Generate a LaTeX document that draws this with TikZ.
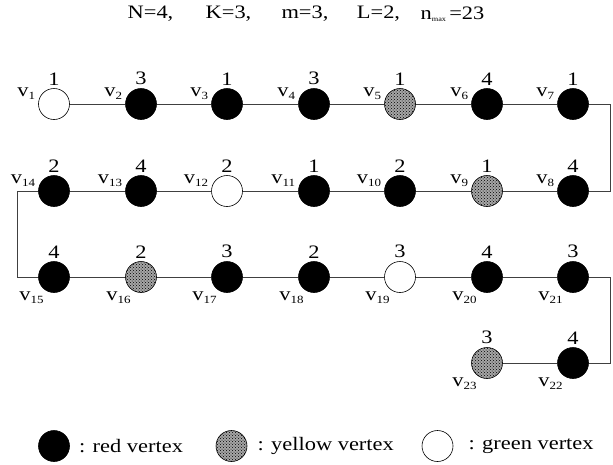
\documentclass[tikz,border=0pt]{standalone}
\usepackage{fontspec}
\setmainfont[FakeStretch=1.18]{Liberation Serif}
\usetikzlibrary{patterns, positioning}
\newcommand{\vx}[1]{v\raisebox{-3pt}{\fontsize{11}{11}\selectfont #1}}

\begin{document}
\begin{tikzpicture}[x=1pt, y=-1pt,
  vtx/.style={circle, draw=black, line width=0.6pt, minimum size=31pt, inner sep=0pt},
  rvtx/.style={vtx, fill=black},
  yvtx/.style={vtx, preaction={fill=gray!70}, pattern=crosshatch dots, pattern color=black},
  gvtx/.style={vtx, fill=white},
  num/.style={font=\fontsize{19}{19}\selectfont, inner sep=0pt, label distance=3pt},
  vlab/.style={font=\fontsize{19}{19}\selectfont, inner sep=0pt},
  txt/.style={font=\fontsize{19}{19}\selectfont, inner sep=0pt},
  vu/.style 2 args={label={[num]above:#1},
                    label={[vlab, anchor=east, xshift=-3pt, yshift=10pt]west:\vx{#2}}},
  vd/.style 2 args={label={[num]above:#1},
                    label={[vlab, anchor=north east, xshift=1pt, yshift=-3pt]south west:\vx{#2}}},
  link/.style={draw=black!75, line width=0.6pt},
]
\useasboundingbox (0,0) rectangle (613,464);
% heading
\node[txt] (tN) at (150.5,14) {N=4,};
\node[txt] (tK) at (228.5,14) {K=3,};
\node[txt] (tm) at (305,14) {m=3,};
\node[txt] (tL) at (378.5,14) {L=2,};
\node[txt] (tn) at (452.5,14) {n\raisebox{-2pt}{\fontsize{7}{7}\selectfont max}\,=23};
% first row
\node[gvtx, vu={1}{1}] (v1) at (54,104) {};
\node[rvtx, vu={3}{2}] (v2) at (141,104) {};
\node[rvtx, vu={1}{3}] (v3) at (227,104) {};
\node[rvtx, vu={3}{4}] (v4) at (314,104) {};
\node[yvtx, vu={1}{5}] (v5) at (400,104) {};
\node[rvtx, vu={4}{6}] (v6) at (487,104) {};
\node[rvtx, vu={1}{7}] (v7) at (573,104) {};
% second row
\node[rvtx, vu={4}{8}] (v8) at (573,191) {};
\node[yvtx, vu={1}{9}] (v9) at (487,191) {};
\node[rvtx, vu={2}{10}] (v10) at (400,191) {};
\node[rvtx, vu={1}{11}] (v11) at (314,191) {};
\node[gvtx, vu={2}{12}] (v12) at (227,191) {};
\node[rvtx, vu={4}{13}] (v13) at (141,191) {};
\node[rvtx, vu={2}{14}] (v14) at (54,191) {};
% third row
\node[rvtx, vd={4}{15}] (v15) at (54,277) {};
\node[yvtx, vd={2}{16}] (v16) at (141,277) {};
\node[rvtx, vd={3}{17}] (v17) at (227,277) {};
\node[rvtx, vd={2}{18}] (v18) at (314,277) {};
\node[gvtx, vd={3}{19}] (v19) at (400,277) {};
\node[rvtx, vd={4}{20}] (v20) at (487,277) {};
\node[rvtx, vd={3}{21}] (v21) at (573,277) {};
% last row
\node[rvtx, vd={4}{22}] (v22) at (573,363) {};
\node[yvtx, vd={3}{23}] (v23) at (487,363) {};
% path
\draw[link] (v1) -- (v2) -- (v3) -- (v4) -- (v5) -- (v6) -- (v7);
\draw[link] (v8) -- (v9) -- (v10) -- (v11) -- (v12) -- (v13) -- (v14);
\draw[link] (v15) -- (v16) -- (v17) -- (v18) -- (v19) -- (v20) -- (v21);
\draw[link] (v22) -- (v23);
\draw[link] (v7.east) -- ++(21,0) |- (v8.east);
\draw[link] (v14.west) -- ++(-21,0) |- (v15.west);
\draw[link] (v21.east) -- ++(21,0) |- (v22.east);
% legend
\node[rvtx] (lr) at (54,446) {};
\node[txt, right=9pt of lr] (lrt) {: red vertex};
\node[yvtx] (ly) at (231.5,446) {};
\node[txt, right=10pt of ly] (lyt) {: yellow vertex};
\node[gvtx] (lg) at (437.5,446) {};
\node[txt, right=15pt of lg] (lgt) {: green vertex};
\end{tikzpicture}
\end{document}
